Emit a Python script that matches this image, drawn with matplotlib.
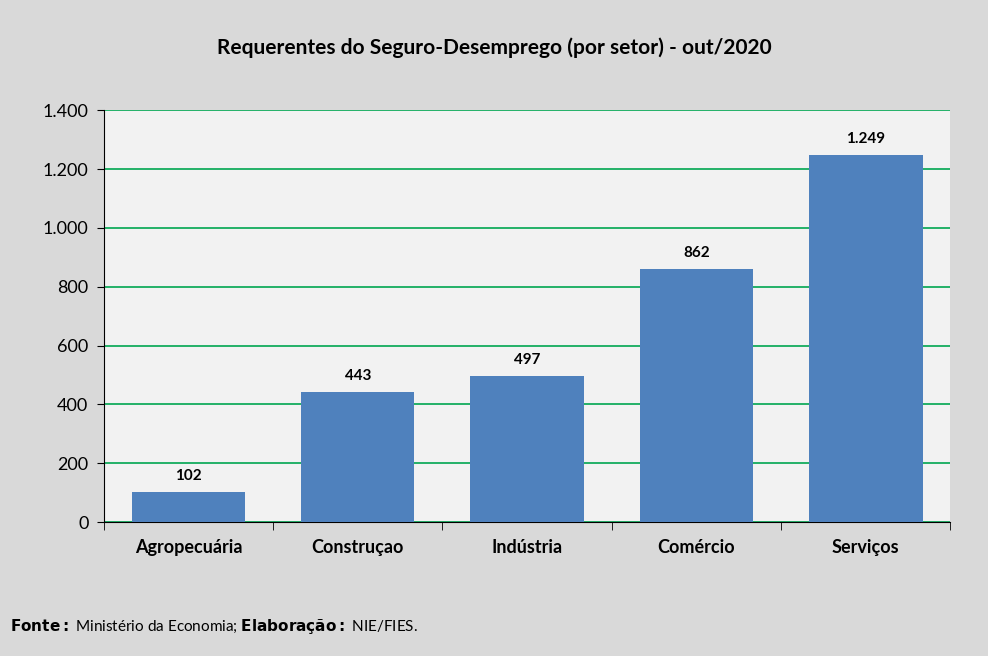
import matplotlib.pyplot as plt
import numpy as np

setores = ["Agropecuária", "Construçao", "Indústria", "Comércio", "Serviços"]
requerentes = [102, 443, 497, 862, 1249]
rotulos = ["102", "443", "497", "862", "1.249"]
yticks = [0, 200, 400, 600, 800, 1000, 1200, 1400]
ylabels = ["0", "200", "400", "600", "800", "1.000", "1.200", "1.400"]

plt.rcParams['font.family'] = ['Lato', 'DejaVu Sans']

fig = plt.figure(figsize=(9.88, 6.56), dpi=100, facecolor='#d9d9d9')
ax = fig.add_axes([0.105, 0.204, 0.857, 0.628])
ax.set_facecolor('#f2f2f2')

x = np.arange(len(setores))
ax.bar(x, requerentes, width=0.67, color='#4f81bd', zorder=3)
for xi, v, t in zip(x, requerentes, rotulos):
    ax.text(xi, v + 30, t, ha='center', va='bottom', fontsize=11, fontweight='bold')

ax.set_ylim(0, 1400)
ax.set_xlim(-0.5, len(setores) - 0.5)
ax.set_yticks(yticks)
ax.set_yticklabels(ylabels, fontsize=13)
ax.set_xticks(x)
ax.set_xticklabels(setores, fontsize=13, fontweight='bold')
ax.set_xticks(np.arange(-0.5, len(setores), 1), minor=True)
ax.tick_params(axis='x', which='major', length=0, pad=12)
ax.tick_params(axis='x', which='minor', length=6, direction='out')
ax.tick_params(axis='y', length=5, direction='out', pad=6)
ax.grid(axis='y', color='#00a651', linewidth=1.2, zorder=0)
for s in ['top', 'right']:
    ax.spines[s].set_visible(False)
ax.spines['left'].set_color('black')
ax.spines['bottom'].set_color('black')

fig.text(0.5, 0.928, "Requerentes do Seguro-Desemprego (por setor) - out/2020",
         ha='center', va='center', fontsize=15, fontweight='bold')
fig.text(0.01, 0.045, r"$\bf{Fonte:}$ Ministério da Economia; $\bf{Elaboração:}$ NIE/FIES.",
         fontsize=11, va='center')

fig.savefig("out.png", dpi=100, facecolor=fig.get_facecolor())
